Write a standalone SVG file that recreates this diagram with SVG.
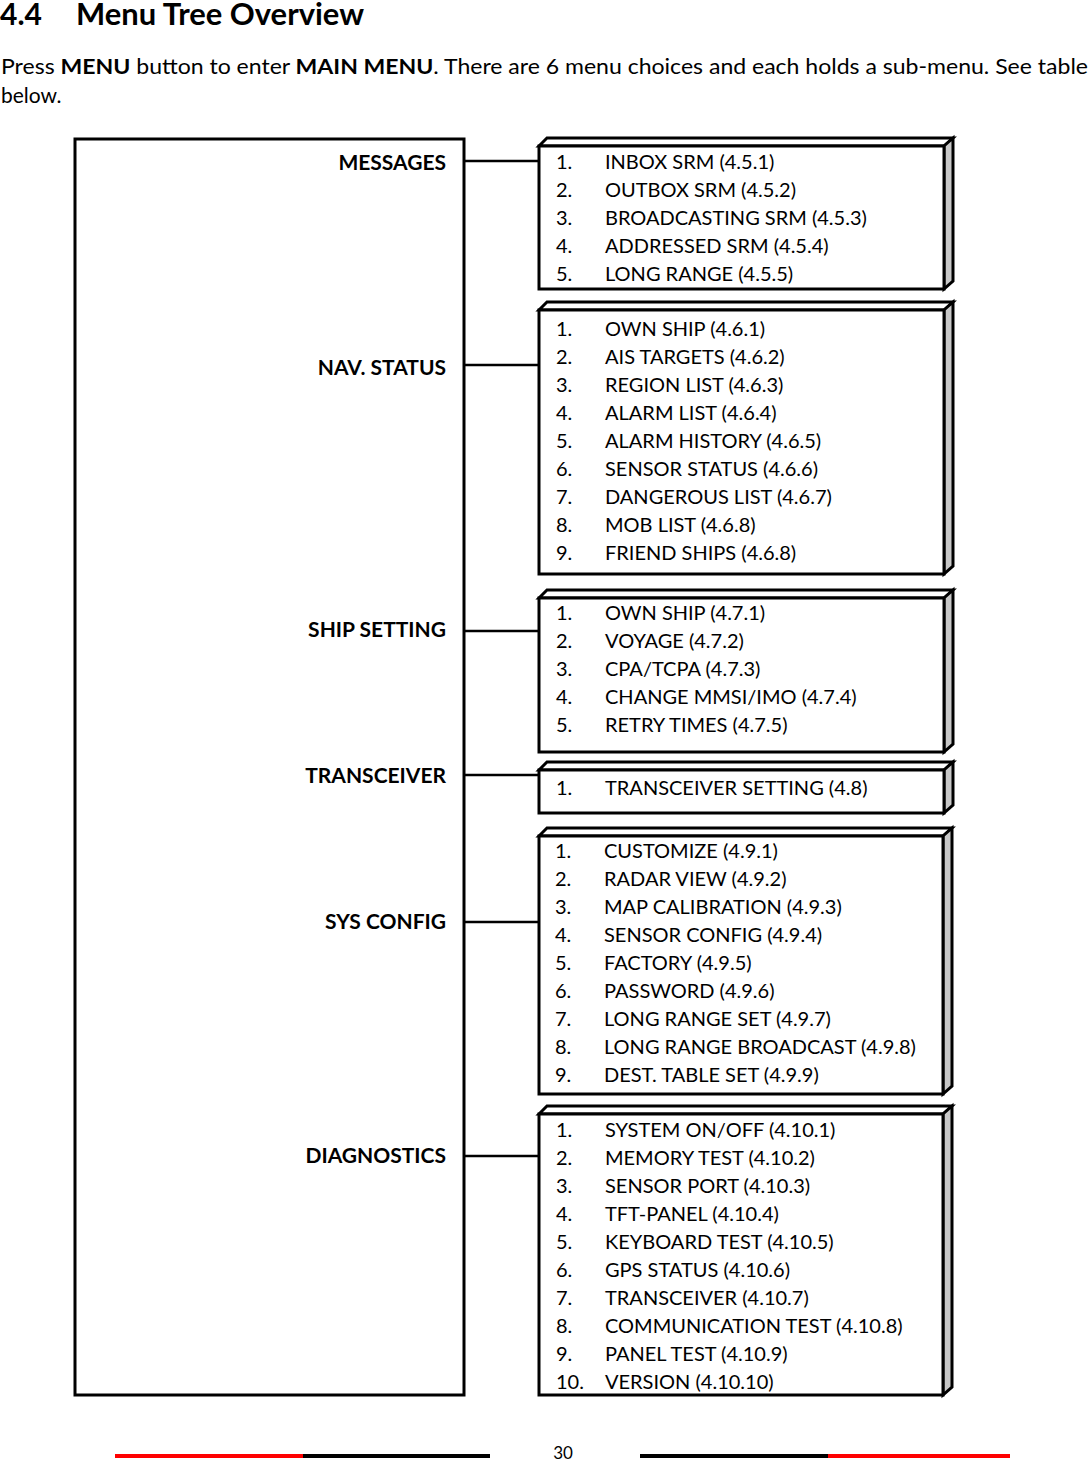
<svg xmlns="http://www.w3.org/2000/svg" width="1090" height="1462" viewBox="0 0 1090 1462">
<style>
text{font-family:Lato,"Open Sans","Liberation Sans",sans-serif;fill:#000}
.h{font-size:30px;font-weight:bold}
.p{font-size:21px}
.b{font-weight:bold}
.lab{font-size:21px;font-weight:bold;text-anchor:end}
.it{font-size:20px}
.front{fill:#fff;stroke:#000;stroke-width:3}
.top{fill:#fff;stroke:#000;stroke-width:3;stroke-linejoin:miter}
.side{fill:#c8c8c8;stroke:#000;stroke-width:3}
.con{stroke:#000;stroke-width:2.5;fill:none}
</style>
<rect width="1090" height="1462" fill="#fff"/>
<text class="h" x="0" y="25">4.4</text>
<text class="h" x="76" y="25" textLength="288" lengthAdjust="spacingAndGlyphs">Menu Tree Overview</text>
<text class="p" x="1" y="74" textLength="1087" lengthAdjust="spacingAndGlyphs">Press <tspan class="b">MENU</tspan> button to enter <tspan class="b">MAIN MENU</tspan>. There are 6 menu choices and each holds a sub-menu. See table</text>
<text class="p" x="1" y="103">below.</text>

<g id="main">
<rect x="75" y="139" width="389" height="1256" fill="#fff" stroke="#000" stroke-width="3"/>
<text class="lab" x="446" y="170">MESSAGES</text>
<text class="lab" x="446" y="375">NAV. STATUS</text>
<text class="lab" x="446" y="637">SHIP SETTING</text>
<text class="lab" x="446" y="783">TRANSCEIVER</text>
<text class="lab" x="446" y="929">SYS CONFIG</text>
<text class="lab" x="446" y="1163">DIAGNOSTICS</text>
</g>

<g id="connectors">
<line class="con" x1="465" y1="161" x2="539" y2="161"/>
<line class="con" x1="465" y1="365" x2="539" y2="365"/>
<line class="con" x1="465" y1="631" x2="539" y2="631"/>
<line class="con" x1="465" y1="775" x2="539" y2="775"/>
<line class="con" x1="465" y1="922" x2="539" y2="922"/>
<line class="con" x1="465" y1="1156" x2="539" y2="1156"/>
</g>

<g id="messages">
<polygon class="top" points="539,146 547,138 953,138 944,146"/>
<polygon class="side" points="944,146 953,138 953,281 944,289"/>
<rect class="front" x="539" y="146" width="405" height="143"/>
<g class="it">
<text x="556" y="169">1.</text><text x="605" y="169">INBOX SRM (4.5.1)</text>
<text x="556" y="197">2.</text><text x="605" y="197">OUTBOX SRM (4.5.2)</text>
<text x="556" y="225">3.</text><text x="605" y="225">BROADCASTING SRM (4.5.3)</text>
<text x="556" y="253">4.</text><text x="605" y="253">ADDRESSED SRM (4.5.4)</text>
<text x="556" y="281">5.</text><text x="605" y="281">LONG RANGE (4.5.5)</text>
</g>
</g>

<g id="navstatus">
<polygon class="top" points="539,310 547,302 953,302 944,310"/>
<polygon class="side" points="944,310 953,302 953,566 944,574"/>
<rect class="front" x="539" y="310" width="405" height="264"/>
<g class="it">
<text x="556" y="336">1.</text><text x="605" y="336">OWN SHIP (4.6.1)</text>
<text x="556" y="364">2.</text><text x="605" y="364">AIS TARGETS (4.6.2)</text>
<text x="556" y="392">3.</text><text x="605" y="392">REGION LIST (4.6.3)</text>
<text x="556" y="420">4.</text><text x="605" y="420">ALARM LIST (4.6.4)</text>
<text x="556" y="448">5.</text><text x="605" y="448">ALARM HISTORY (4.6.5)</text>
<text x="556" y="476">6.</text><text x="605" y="476">SENSOR STATUS (4.6.6)</text>
<text x="556" y="504">7.</text><text x="605" y="504">DANGEROUS LIST (4.6.7)</text>
<text x="556" y="532">8.</text><text x="605" y="532">MOB LIST (4.6.8)</text>
<text x="556" y="560">9.</text><text x="605" y="560">FRIEND SHIPS (4.6.8)</text>
</g>
</g>

<g id="shipsetting">
<polygon class="top" points="539,598 547,590 953,590 944,598"/>
<polygon class="side" points="944,598 953,590 953,744 944,752"/>
<rect class="front" x="539" y="598" width="405" height="154"/>
<g class="it">
<text x="556" y="620">1.</text><text x="605" y="620">OWN SHIP (4.7.1)</text>
<text x="556" y="648">2.</text><text x="605" y="648">VOYAGE (4.7.2)</text>
<text x="556" y="676">3.</text><text x="605" y="676">CPA/TCPA (4.7.3)</text>
<text x="556" y="704">4.</text><text x="605" y="704">CHANGE MMSI/IMO (4.7.4)</text>
<text x="556" y="732">5.</text><text x="605" y="732">RETRY TIMES (4.7.5)</text>
</g>
</g>

<g id="transceiver">
<polygon class="top" points="539,770 547,762 953,762 944,770"/>
<polygon class="side" points="944,770 953,762 953,805 944,813"/>
<rect class="front" x="539" y="770" width="405" height="43"/>
<g class="it">
<text x="556" y="795">1.</text><text x="605" y="795">TRANSCEIVER SETTING (4.8)</text>
</g>
</g>

<g id="sysconfig">
<polygon class="top" points="539,836 547,828 952,828 943,836"/>
<polygon class="side" points="943,836 952,828 952,1086 943,1094"/>
<rect class="front" x="539" y="836" width="404" height="258"/>
<g class="it">
<text x="555" y="858">1.</text><text x="604" y="858">CUSTOMIZE (4.9.1)</text>
<text x="555" y="886">2.</text><text x="604" y="886">RADAR VIEW (4.9.2)</text>
<text x="555" y="914">3.</text><text x="604" y="914">MAP CALIBRATION (4.9.3)</text>
<text x="555" y="942">4.</text><text x="604" y="942">SENSOR CONFIG (4.9.4)</text>
<text x="555" y="970">5.</text><text x="604" y="970">FACTORY (4.9.5)</text>
<text x="555" y="998">6.</text><text x="604" y="998">PASSWORD (4.9.6)</text>
<text x="555" y="1026">7.</text><text x="604" y="1026">LONG RANGE SET (4.9.7)</text>
<text x="555" y="1054">8.</text><text x="604" y="1054">LONG RANGE BROADCAST (4.9.8)</text>
<text x="555" y="1082">9.</text><text x="604" y="1082">DEST. TABLE SET (4.9.9)</text>
</g>
</g>

<g id="diagnostics">
<polygon class="top" points="539,1114 547,1106 952,1106 943,1114"/>
<polygon class="side" points="943,1114 952,1106 952,1387 943,1395"/>
<rect class="front" x="539" y="1114" width="404" height="281"/>
<g class="it">
<text x="556" y="1137">1.</text><text x="605" y="1137">SYSTEM ON/OFF (4.10.1)</text>
<text x="556" y="1165">2.</text><text x="605" y="1165">MEMORY TEST (4.10.2)</text>
<text x="556" y="1193">3.</text><text x="605" y="1193">SENSOR PORT (4.10.3)</text>
<text x="556" y="1221">4.</text><text x="605" y="1221">TFT-PANEL (4.10.4)</text>
<text x="556" y="1249">5.</text><text x="605" y="1249">KEYBOARD TEST (4.10.5)</text>
<text x="556" y="1277">6.</text><text x="605" y="1277">GPS STATUS (4.10.6)</text>
<text x="556" y="1305">7.</text><text x="605" y="1305">TRANSCEIVER (4.10.7)</text>
<text x="556" y="1333">8.</text><text x="605" y="1333">COMMUNICATION TEST (4.10.8)</text>
<text x="556" y="1361">9.</text><text x="605" y="1361">PANEL TEST (4.10.9)</text>
<text x="556" y="1389">10.</text><text x="605" y="1389">VERSION (4.10.10)</text>
</g>
</g>

<g id="footer">
<line x1="115" y1="1456" x2="303" y2="1456" stroke="#f00" stroke-width="4"/>
<line x1="303" y1="1456" x2="490" y2="1456" stroke="#000" stroke-width="4"/>
<line x1="640" y1="1456" x2="828" y2="1456" stroke="#000" stroke-width="4"/>
<line x1="828" y1="1456" x2="1010" y2="1456" stroke="#f00" stroke-width="4"/>
<text x="563" y="1459" font-size="17" text-anchor="middle">30</text>
</g>
</svg>
